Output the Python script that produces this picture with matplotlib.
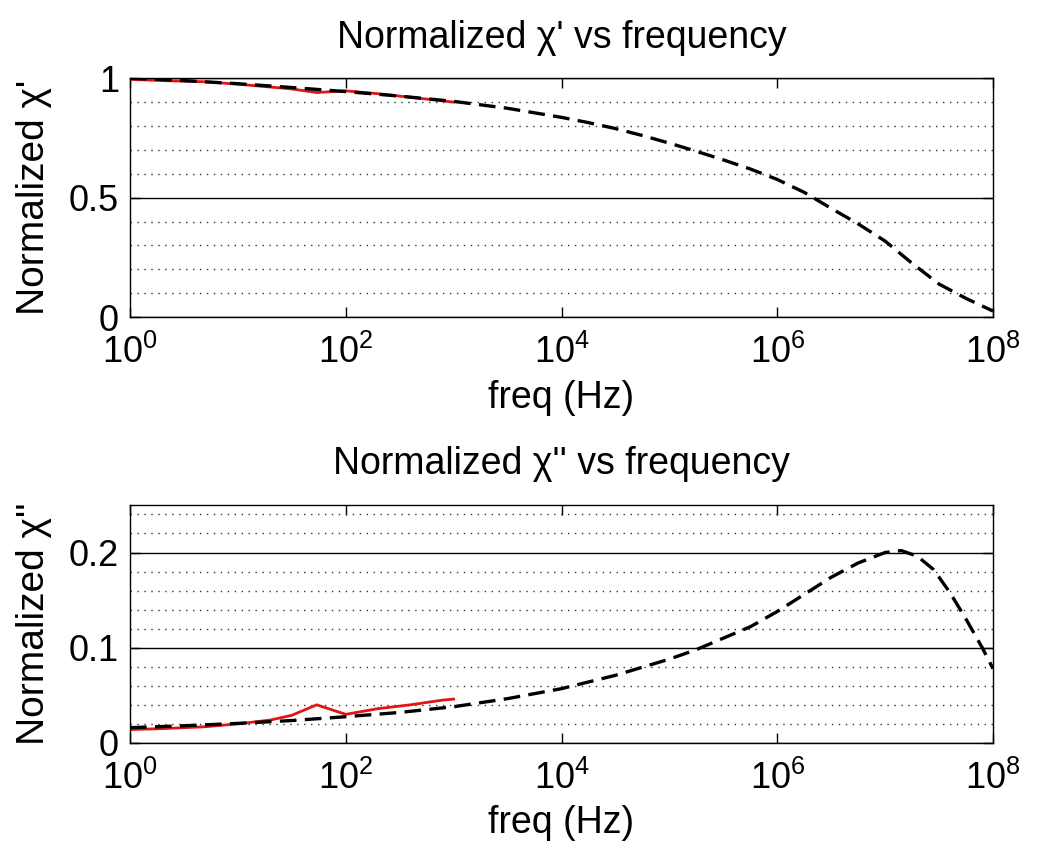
import numpy as np
import matplotlib
matplotlib.use("Agg")
import matplotlib.pyplot as plt
from matplotlib.ticker import MultipleLocator, NullLocator, FixedLocator

plt.rcParams['font.family'] = ['Liberation Sans', 'DejaVu Sans']
plt.rcParams['mathtext.fontset'] = 'custom'
plt.rcParams['mathtext.rm'] = 'Liberation Sans'
plt.rcParams['mathtext.it'] = 'Liberation Sans'

# model curves (log10 of frequency -> normalized value)
model1_logf = [0, 0.5, 1, 1.5, 2, 2.5, 3, 3.5, 4, 4.25, 4.5, 4.75, 5, 5.25, 5.5,
               5.75, 6, 6.25, 6.5, 6.75, 7, 7.25, 7.5, 7.75, 8]
model_chi1 = [1.0, 0.99, 0.977, 0.961, 0.944, 0.925, 0.903, 0.874, 0.836, 0.814,
              0.789, 0.76, 0.728, 0.694, 0.658, 0.62, 0.576, 0.522, 0.455, 0.39,
              0.318, 0.225, 0.138, 0.078, 0.025]
model2_logf = [0, 0.5, 1, 1.5, 2, 2.5, 3, 3.5, 4, 4.5, 5, 5.25, 5.5, 5.75, 6,
               6.25, 6.5, 6.75, 7, 7.15, 7.3, 7.45, 7.6, 7.75, 7.9, 8]
model_chi2 = [0.016, 0.018, 0.0205, 0.0235, 0.0275, 0.032, 0.038, 0.0465, 0.057,
              0.071, 0.088, 0.098, 0.11, 0.122, 0.138, 0.156, 0.174, 0.189, 0.2,
              0.202, 0.196, 0.182, 0.158, 0.13, 0.1, 0.078]

# measured data
meas_logf = [0, 0.3, 0.7, 1.0, 1.3, 1.5, 1.73, 2.0, 2.3, 2.6, 2.9, 3.0]
meas_chi1 = [0.995, 0.99, 0.985, 0.975, 0.963, 0.955, 0.94, 0.947, 0.935, 0.92, 0.905, 0.9]
meas_chi2 = [0.014, 0.015, 0.017, 0.02, 0.024, 0.029, 0.040, 0.030, 0.036, 0.040, 0.045, 0.046]

f_meas = 10.0 ** np.array(meas_logf)

fig = plt.figure(figsize=(10.41, 8.5), dpi=100)
ax1 = fig.add_axes([0.1249, 0.627, 0.829, 0.281])
ax2 = fig.add_axes([0.1249, 0.126, 0.829, 0.280])

panels = [
    (ax1, meas_chi1, model1_logf, model_chi1, (0, 1), [0, 0.5, 1], ['0', '0.5', '1'], 0.1,
     "Normalized χ' vs frequency", "Normalized χ'"),
    (ax2, meas_chi2, model2_logf, model_chi2, (0, 0.25), [0, 0.1, 0.2], ['0', '0.1', '0.2'], 0.02,
     "Normalized χ'' vs frequency", "Normalized χ''"),
]

for ax, meas, mlogf, model, ylim, yt, ytl, minor, title, ylab in panels:
    ax.plot(f_meas, meas, color='#e01515', lw=2)
    ax.plot(10.0 ** np.array(mlogf), model, color='black', lw=2.4, linestyle=(0, (5, 2.5)))
    ax.set_xscale('log')
    ax.set_xlim(1, 1e8)
    ax.set_ylim(*ylim)
    ax.xaxis.set_major_locator(FixedLocator([1, 1e2, 1e4, 1e6, 1e8]))
    ax.set_xticklabels([r'$10^{0}$', r'$10^{2}$', r'$10^{4}$', r'$10^{6}$', r'$10^{8}$'])
    ax.xaxis.set_minor_locator(NullLocator())
    ax.set_yticks(yt)
    ax.set_yticklabels(ytl)
    ax.yaxis.set_minor_locator(MultipleLocator(minor))
    ax.tick_params(which='major', direction='in', length=7, width=1, top=True, right=True,
                   labelsize=26, pad=8)
    ax.tick_params(axis='x', which='major', pad=13)
    ax.tick_params(which='minor', length=0)
    ax.yaxis.grid(True, which='major', color='black', lw=1, ls='-')
    ax.yaxis.grid(True, which='minor', color='#333333', lw=1, ls=(0, (1, 4)))
    ax.set_axisbelow(True)
    for s in ax.spines.values():
        s.set_linewidth(1)
    ax.set_title(title, fontsize=27, pad=22)
    ax.set_xlabel('freq (Hz)', fontsize=27, labelpad=6)
    ax.set_ylabel(ylab, fontsize=28, labelpad=12)

fig.savefig('out.png', dpi=100, facecolor='white')
